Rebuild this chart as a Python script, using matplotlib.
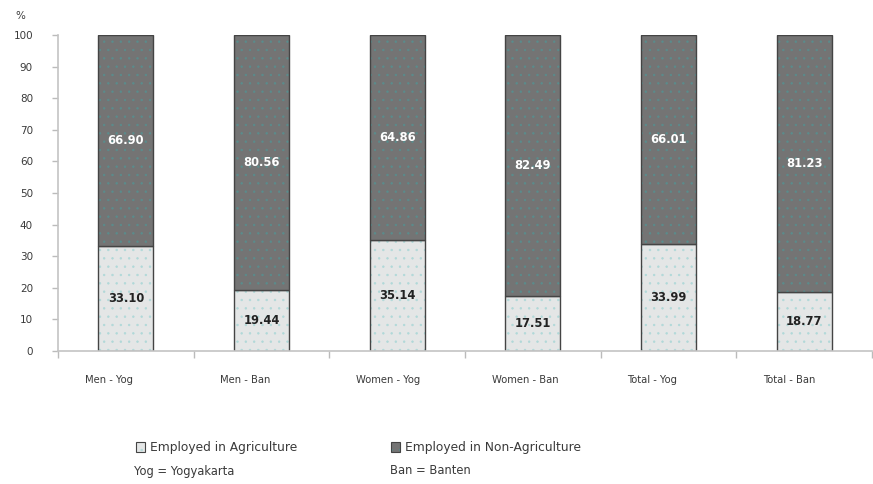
import matplotlib
matplotlib.use("Agg")
import matplotlib.pyplot as plt
from matplotlib.patches import Rectangle
from matplotlib.transforms import ScaledTranslation
import numpy as np

plt.rcParams['font.family'] = ['DejaVu Sans']
plt.rcParams['hatch.linewidth'] = 0.5

categories = ["Men - Yog", "Men - Ban", "Women - Yog", "Women - Ban", "Total - Yog", "Total - Ban"]
agriculture = [33.10, 19.44, 35.14, 17.51, 33.99, 18.77]
non_agriculture = [66.90, 80.56, 64.86, 82.49, 66.01, 81.23]
y_ticks = list(range(0, 101, 10))

agri_face = "#e4e6e6"
agri_hatch = "#b0d8d8"
nonag_face = "#747474"
nonag_hatch = "#5a8c8c"
edge = "#444444"
text_col = "#3a3a3a"

fig = plt.figure(figsize=(8.73, 4.84), dpi=100)
ax = fig.add_axes([58/873, 1-351/484, 814/873, 316/484])

x = np.arange(len(categories))
width = 0.405

b1 = ax.bar(x, agriculture, width, color=agri_face, edgecolor=edge, linewidth=1.0,
            hatch="..", zorder=2)
b2 = ax.bar(x, non_agriculture, width, bottom=agriculture, color=nonag_face,
            edgecolor=edge, linewidth=1.0, hatch="..", zorder=2)
for p in b1:
    p._hatch_color = matplotlib.colors.to_rgba(agri_hatch)
for p in b2:
    p._hatch_color = matplotlib.colors.to_rgba(nonag_hatch)

for i in range(len(categories)):
    ax.text(x[i], agriculture[i] / 2, f"{agriculture[i]:.2f}", ha="center", va="center",
            fontsize=8.3, fontweight="bold", color="#222222", zorder=3)
    ax.text(x[i], agriculture[i] + non_agriculture[i] / 2, f"{non_agriculture[i]:.2f}",
            ha="center", va="center", fontsize=8.3, fontweight="bold", color="white", zorder=3)

ax.set_xlim(-0.5, len(categories) - 0.5)
ax.set_ylim(0, 100)
ax.set_yticks(y_ticks)
ax.set_yticklabels([str(v) for v in y_ticks], fontsize=7.5, color=text_col)
ax.set_xticks(x)
ax.set_xticklabels(categories, fontsize=7.2, color=text_col, ha="left")
ax.tick_params(axis="x", length=0, pad=17)
shift = ScaledTranslation(-41/100, 0, fig.dpi_scale_trans)
for lab in ax.get_xticklabels():
    lab.set_transform(lab.get_transform() + shift)
ax.set_xticks(np.arange(-0.5, len(categories) + 0.5, 1), minor=True)
ax.tick_params(axis="x", which="minor", length=5, color="#bbbbbb", width=1)
ax.tick_params(axis="y", length=4, color="#bbbbbb", width=1, pad=14)

for s in ["top", "right"]:
    ax.spines[s].set_visible(False)
for s in ["left", "bottom"]:
    ax.spines[s].set_color("#c4c4c4")
    ax.spines[s].set_linewidth(1.2)

fig.text(20/873, 1-16/484, "%", fontsize=7.5, color=text_col, ha="center", va="center")

# legend and abbreviation notes
def legend_item(px, py, face, hatch_col, label):
    r = Rectangle((px/873, 1-(py+5)/484), 9/873, 10/484, transform=fig.transFigure,
                  facecolor=face, edgecolor=edge, linewidth=0.8, hatch="..")
    r._hatch_color = matplotlib.colors.to_rgba(hatch_col)
    fig.patches.append(r)
    fig.text((px+14)/873, 1-py/484, label, fontsize=8.8, color=text_col, va="center")

legend_item(136, 447, agri_face, agri_hatch, "Employed in Agriculture")
legend_item(391, 447, nonag_face, nonag_hatch, "Employed in Non-Agriculture")
fig.text(134/873, 1-471/484, "Yog = Yogyakarta", fontsize=8.3, color=text_col, va="center")
fig.text(390/873, 1-471/484, "Ban = Banten", fontsize=8.3, color=text_col, va="center")

fig.savefig("out.png", dpi=100)
